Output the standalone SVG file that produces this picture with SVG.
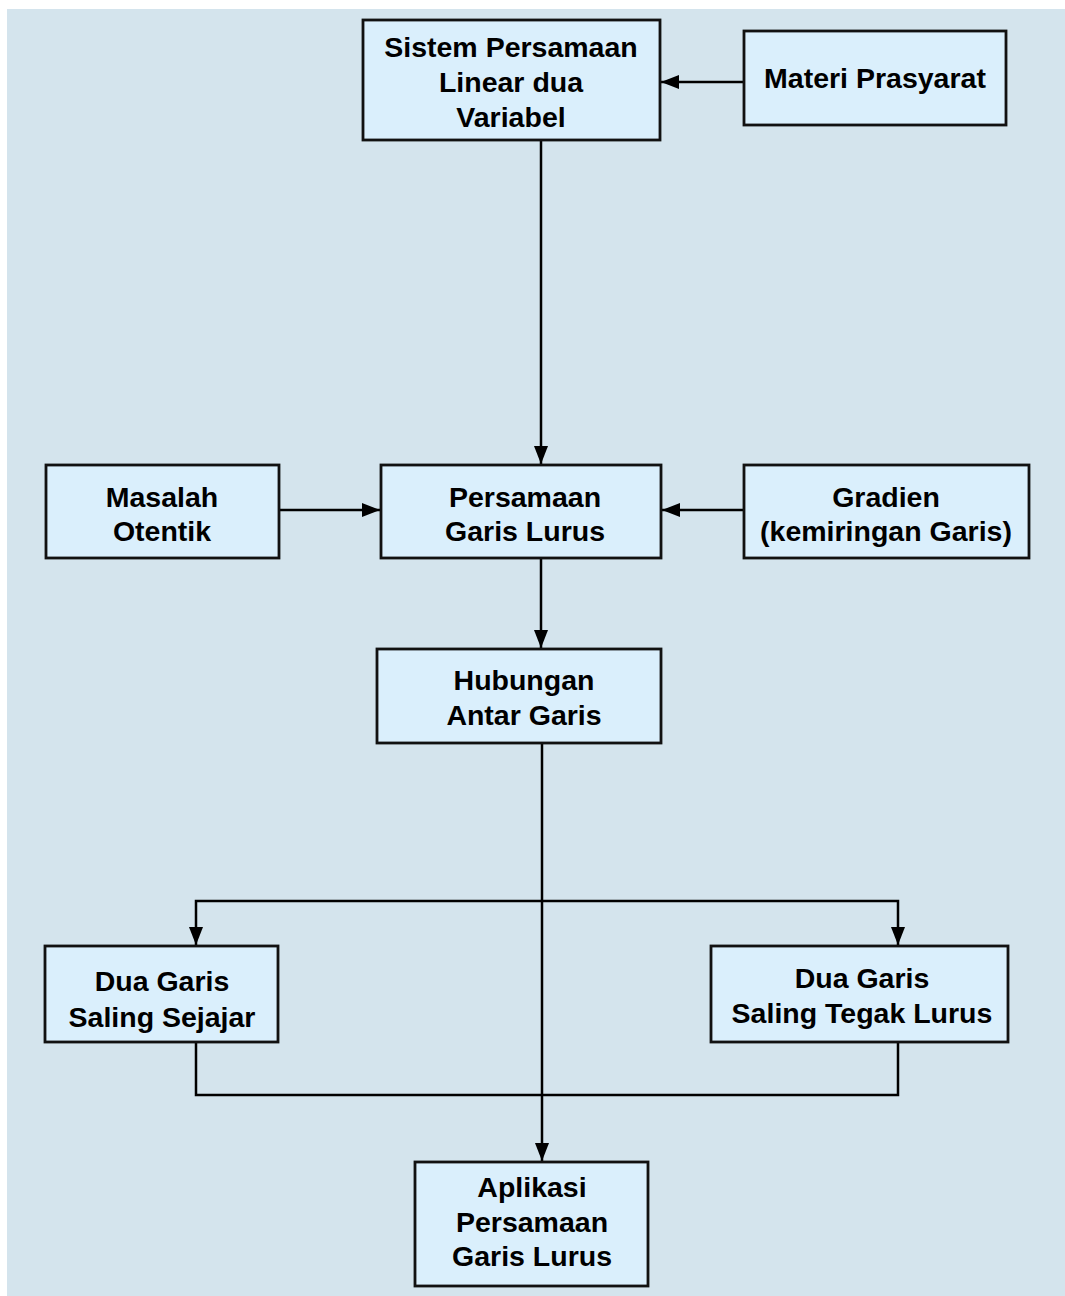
<svg xmlns="http://www.w3.org/2000/svg" width="1065" height="1296" viewBox="0 0 1065 1296">
<style>
.box{fill:#daeffc;stroke:#111;stroke-width:2.8}
.t{font-family:"Liberation Sans",Arial,sans-serif;font-weight:bold;font-size:28.5px;fill:#000;text-anchor:middle}
.c{fill:none;stroke:#000;stroke-width:2.5}
</style>
<defs>
<marker id="ah" markerUnits="userSpaceOnUse" markerWidth="18" markerHeight="14" refX="18" refY="7" orient="auto">
<path d="M0,0 L18,7 L0,14 z" fill="#000"/>
</marker>
</defs>
<rect x="0" y="0" width="1065" height="1296" fill="#fff"/>
<rect x="7" y="9" width="1058" height="1287" fill="#d4e4ed"/>
<g id="connectors">
<line class="c" x1="744" y1="82" x2="661" y2="82" marker-end="url(#ah)"/>
<line class="c" x1="541" y1="141" x2="541" y2="464" marker-end="url(#ah)"/>
<line class="c" x1="279" y1="510" x2="380" y2="510" marker-end="url(#ah)"/>
<line class="c" x1="744" y1="510" x2="662" y2="510" marker-end="url(#ah)"/>
<line class="c" x1="541" y1="558" x2="541" y2="648" marker-end="url(#ah)"/>
<line class="c" x1="542" y1="743" x2="542" y2="1161" marker-end="url(#ah)"/>
<polyline class="c" points="542,901 196,901 196,945" marker-end="url(#ah)"/>
<polyline class="c" points="542,901 898,901 898,945" marker-end="url(#ah)"/>
<polyline class="c" points="196,1042 196,1095 898,1095 898,1042"/>
</g>
<g id="spldv">
<rect class="box" x="363" y="20" width="297" height="120"/>
<text class="t" x="511" y="57">Sistem Persamaan</text>
<text class="t" x="511" y="92">Linear dua</text>
<text class="t" x="511" y="127">Variabel</text>
</g>
<g id="materi">
<rect class="box" x="744" y="31" width="262" height="94"/>
<text class="t" x="875" y="88">Materi Prasyarat</text>
</g>
<g id="masalah">
<rect class="box" x="46" y="465" width="233" height="93"/>
<text class="t" x="162" y="507">Masalah</text>
<text class="t" x="162" y="541">Otentik</text>
</g>
<g id="persamaan">
<rect class="box" x="381" y="465" width="280" height="93"/>
<text class="t" x="525" y="507">Persamaan</text>
<text class="t" x="525" y="541">Garis Lurus</text>
</g>
<g id="gradien">
<rect class="box" x="744" y="465" width="285" height="93"/>
<text class="t" x="886" y="507">Gradien</text>
<text class="t" x="886" y="541">(kemiringan Garis)</text>
</g>
<g id="hubungan">
<rect class="box" x="377" y="649" width="284" height="94"/>
<text class="t" x="524" y="690">Hubungan</text>
<text class="t" x="524" y="725">Antar Garis</text>
</g>
<g id="sejajar">
<rect class="box" x="45" y="946" width="233" height="96"/>
<text class="t" x="162" y="991">Dua Garis</text>
<text class="t" x="162" y="1027">Saling Sejajar</text>
</g>
<g id="tegak">
<rect class="box" x="711" y="946" width="297" height="96"/>
<text class="t" x="862" y="988">Dua Garis</text>
<text class="t" x="862" y="1023">Saling Tegak Lurus</text>
</g>
<g id="aplikasi">
<rect class="box" x="415" y="1162" width="233" height="124"/>
<text class="t" x="532" y="1197">Aplikasi</text>
<text class="t" x="532" y="1232">Persamaan</text>
<text class="t" x="532" y="1266">Garis Lurus</text>
</g>
</svg>
